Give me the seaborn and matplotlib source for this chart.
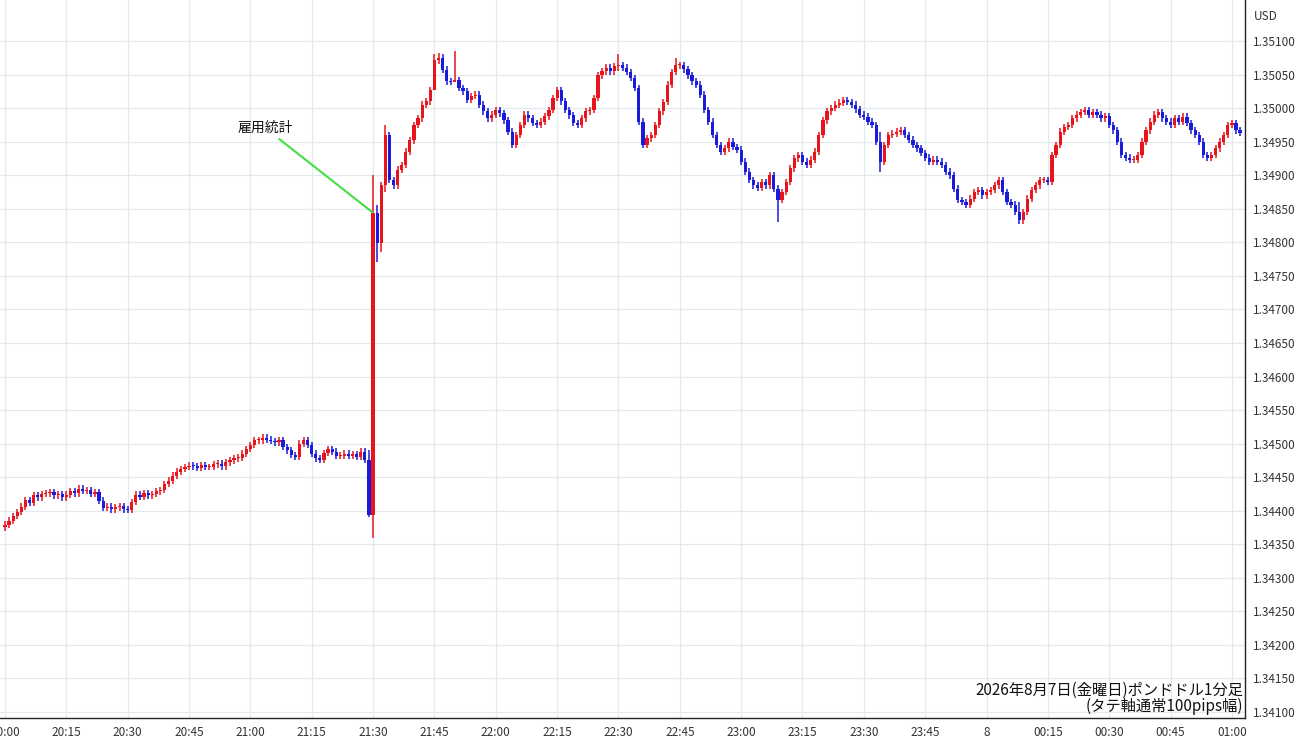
import matplotlib
matplotlib.use("Agg")
import matplotlib.pyplot as plt
import seaborn as sns
import numpy as np

# closes in pips above 1.34000, one per minute from 20:00
closes_pips = [
37.9,38.5,39.2,39.8,40.6,41.6,41.2,42.3,42.0,42.5,
42.6,42.8,42.3,42.5,42.0,42.4,42.9,42.6,43.3,43.0,
43.1,42.5,42.8,41.5,40.4,40.6,40.2,40.5,40.7,40.2,
40.1,41.3,42.4,42.1,42.6,42.3,42.5,42.9,43.1,44.0,
44.5,45.2,45.8,46.2,46.5,46.7,46.6,46.4,46.8,46.5,
46.5,46.9,47.0,46.6,47.2,47.5,47.8,47.9,48.5,49.2,
49.8,50.5,50.5,50.9,50.6,50.4,50.2,50.5,49.5,49.0,
48.3,48.0,50.0,50.5,49.8,48.5,47.8,47.6,48.6,49.2,
48.8,48.2,48.2,48.5,48.2,48.4,48.0,48.8,47.6,39.4,
84.4,79.9,88.6,96.0,89.3,88.5,90.8,91.5,93.5,95.2,
97.5,98.5,100.5,101.0,102.7,107.2,107.5,105.7,104.0,103.9,
104.2,103.0,102.5,101.2,101.8,102.0,100.5,99.5,98.5,99.0,
99.7,99.2,98.2,96.5,94.5,96.0,97.5,99.0,98.5,97.8,
97.5,98.0,98.8,99.7,101.5,102.7,101.0,99.7,98.9,97.8,
97.5,98.5,99.5,99.7,101.5,104.9,105.5,106.0,105.5,106.2,
106.4,106.0,105.4,104.5,103.0,98.0,94.5,95.5,96.0,97.5,
99.5,100.9,103.5,105.4,106.4,106.4,105.8,104.9,104.0,103.5,
102.0,99.7,98.0,96.0,94.5,93.5,94.0,95.0,94.2,93.8,
92.0,90.5,89.3,88.5,88.1,89.0,88.5,90.0,88.0,86.3,
87.5,89.0,91.0,92.5,93.0,92.0,91.5,92.3,93.5,96.0,
98.2,99.5,100.0,100.5,100.8,101.2,100.9,100.5,99.8,99.0,
98.7,98.0,97.5,95.0,92.0,94.5,96.0,96.2,96.5,96.7,
96.0,95.3,94.5,94.0,93.3,92.6,92.0,92.3,92.0,91.5,
90.5,90.0,88.0,86.3,86.0,85.6,86.5,87.5,87.8,87.0,
87.5,87.8,88.5,89.3,87.5,86.0,85.6,84.5,83.3,84.5,
86.5,87.8,88.5,89.3,89.3,89.0,93.0,94.5,96.5,97.2,
97.5,98.5,99.0,99.4,99.7,99.0,99.4,99.0,98.5,98.8,
97.5,96.7,95.0,93.0,92.6,92.3,92.3,93.0,95.0,96.7,
98.0,99.0,99.4,98.5,98.0,97.5,98.5,98.0,98.7,97.8,
96.7,96.0,95.0,93.0,92.6,93.0,94.0,95.0,96.0,97.5,
97.8,96.7,96.3,
]
first_open_pips = 37.5
# notable wick extremes (minute index: (high, low) in pips)
special_wicks = {89: (49.0, 39.0), 90: (90.0, 36.0), 91: (85.5, 77.0), 92: (89.0, 78.5),
                 93: (97.5, 87.5), 105: (108.0, 102.7), 106: (108.2, 106.5),
                 110: (108.5, 103.9), 164: (107.5, 105.0), 150: (108.0, 105.5),
                 189: (88.5, 83.0), 214: (96.5, 90.5), 248: (86.0, 82.7)}
xtick_labels = ["20:00","20:15","20:30","20:45","21:00","21:15","21:30","21:45","22:00",
                "22:15","22:30","22:45","23:00","23:15","23:30","23:45","8","00:15",
                "00:30","00:45","01:00"]
ytick_values = [1.341 + 0.0005 * i for i in range(21)]

closes = 1.34 + np.array(closes_pips) / 10000
opens = np.concatenate([[1.34 + first_open_pips / 10000], closes[:-1]])
highs = np.maximum(opens, closes) + 0.00005
lows = np.minimum(opens, closes) - 0.00005
for k, (h, l) in special_wicks.items():
    highs[k] = 1.34 + h / 10000
    lows[k] = 1.34 + l / 10000
t = np.arange(len(closes))

sns.set_theme(style="white")
plt.rcParams['font.family'] = ['Noto Sans CJK JP', 'DejaVu Sans']

fig = plt.figure(figsize=(13, 7.45), dpi=100)
ax = fig.add_axes([0.0, 27/745, 1245/1300, 718/745])

RED, BLUE = "#e8141c", "#1a1adb"
cols = np.where(closes >= opens, RED, BLUE)
ax.vlines(t, lows, highs, colors=cols, linewidth=1.1, zorder=3)
body_h = np.abs(closes - opens)
body_h = np.maximum(body_h, 0.000015)
ax.bar(t, body_h, bottom=np.minimum(opens, closes), width=0.78, color=cols, linewidth=0, zorder=4)

ax.set_xlim(-1.22, 303.2)
ax.set_ylim(1.341 - 6/67100, 1.351 + 41/67100)
ax.set_xticks(np.arange(0, 301, 15))
ax.set_xticklabels(xtick_labels, fontsize=8.5, color="#333333")
ax.yaxis.tick_right()
ax.set_yticks(ytick_values)
ax.set_yticklabels([f"{v:.5f}" for v in ytick_values], fontsize=8.5, color="#333333")
ax.tick_params(axis='both', length=0, pad=6)
ax.grid(True, color="#e3eaef", linewidth=0.9)
for s in ["top", "left"]:
    ax.spines[s].set_visible(False)
for s in ["bottom", "right"]:
    ax.spines[s].set_color("#222222")
    ax.spines[s].set_linewidth(1.0)

fig.text(1266/1300, 1 - 16/745, "USD", fontsize=8.5, color="#333333", va="center", ha="center")

# annotation
ax.annotate("雇用統計", xy=(90, 1.34844), xytext=(63.6, 1.3496),
            fontsize=10, color="#111111", ha="center", va="bottom",
            arrowprops=dict(arrowstyle="-", color="#44dd44", lw=1.5, shrinkA=1, shrinkB=0))

ax.text(0.9985, 0.004, "2026年8月7日(金曜日)ポンドドル1分足\n(タテ軸通常100pips幅)",
        transform=ax.transAxes, ha="right", va="bottom", fontsize=11, color="#111111",
        linespacing=0.95, zorder=6)

fig.savefig("out.png", dpi=100)
